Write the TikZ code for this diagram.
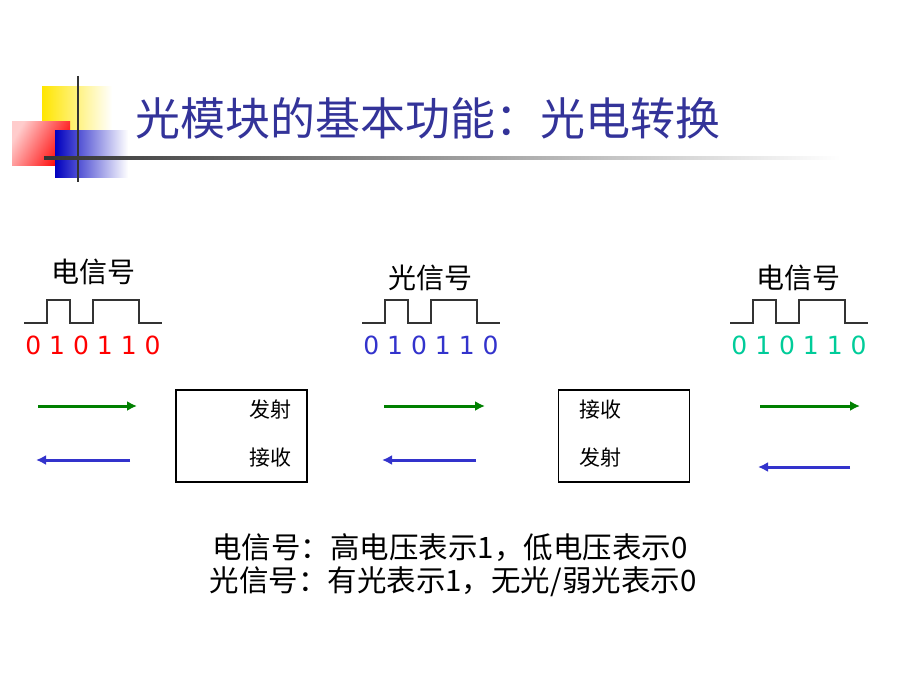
\documentclass[tikz,border=0pt]{standalone}
\usepackage{fontspec}
\setmainfont{DejaVu Sans}
\newfontfamily\cjk{Noto Sans CJK SC}
\usetikzlibrary{positioning}
\definecolor{titleblue}{RGB}{51,51,153}
\definecolor{sigred}{RGB}{255,0,0}
\definecolor{sigblue}{RGB}{51,51,204}
\definecolor{sigcyan}{RGB}{0,204,153}
\definecolor{arrgreen}{RGB}{0,128,0}
\definecolor{arrblue}{RGB}{51,51,204}
\tikzset{every picture/.style={line width=0.75pt}}
\tikzset{
  sig/.style={font=\cjk\fontsize{28}{32}\selectfont},
  bits/.style={font=\fontsize{25}{28}\selectfont},
  modbox/.style={draw,line width=1.5pt,minimum width=131pt,minimum height=92pt,inner sep=0pt},
  boxtext/.style={font=\cjk\fontsize{21}{24}\selectfont,inner sep=0.75pt},
  note/.style={font=\cjk\fontsize{29.5}{32}\selectfont},
  fwd/.style={draw=arrgreen,line width=3pt,-{Latex[length=10pt,width=10pt]}},
  bwd/.style={draw=arrblue,line width=3pt,-{Latex[length=10pt,width=10pt]}},
}
\usetikzlibrary{arrows.meta}
\newcommand{\wave}[1]{%
  \draw[line width=1.2pt,black!80] (#1+0,323) -- (#1+23,323) -- (#1+23,300) -- (#1+46,300) -- (#1+46,323)
    -- (#1+69,323) -- (#1+69,300) -- (#1+115,300) -- (#1+115,323) -- (#1+138,323);}

\begin{document}
\begin{tikzpicture}[x=1pt,y=1pt,yscale=-1,xscale=1]
\useasboundingbox (0,0) rectangle (920,690);

%Decoration
\shade[left color=yellow!80!orange,right color=white] (42,87) rectangle (112,132);
\shade[left color=red!20,right color=red,shading angle=60] (12,122) rectangle (70,165);
\shade[left color=blue!75!black,right color=white] (55,130) rectangle (128,177);
\draw[line width=2.5pt,black!80] (78,76) -- (78,182);
\shade[left color=black!80,right color=white] (44,156.5) rectangle (840,159.5);

% Title
\node[anchor=west,text=titleblue,font=\cjk\fontsize{45}{50}\selectfont] (title) at (132,118) {光模块的基本功能：光电转换};

% Signals
\node[sig] (lsig) at (93,272) {电信号};
\node[sig] (msig) at (430,278) {光信号};
\node[sig] (rsig) at (798,278) {电信号};
\wave{24}
\wave{362}
\wave{730}
\node[bits,text=sigred] (lbits) at (93,345) {0 1 0 1 1 0};
\node[bits,text=sigblue] (mbits) at (431,345) {0 1 0 1 1 0};
\node[bits,text=sigcyan] (rbits) at (799,345) {0 1 0 1 1 0};

% Modules
\node[modbox] (tx) at (241.5,436) {};
\node[modbox] (rx) at (624,436) {};
\node[boxtext] (txa) at (270,410) {发射};
\node[boxtext] (txb) at (270,458) {接收};
\node[boxtext] (rxa) at (600,410) {接收};
\node[boxtext] (rxb) at (600,458) {发射};

% Arrows
\coordinate (g1a) at (38,406);  \coordinate (g1b) at (137,406);
\coordinate (g2a) at (384,406); \coordinate (g2b) at (485,406);
\coordinate (g3a) at (760,406); \coordinate (g3b) at (860,406);
\coordinate (b1a) at (130,460); \coordinate (b1b) at (36,460);
\coordinate (b2a) at (476,460); \coordinate (b2b) at (382,460);
\coordinate (b3a) at (850,467); \coordinate (b3b) at (758,467);
\draw[fwd] (g1a) -- (g1b);
\draw[fwd] (g2a) -- (g2b);
\draw[fwd] (g3a) -- (g3b);
\draw[bwd] (b1a) -- (b1b);
\draw[bwd] (b2a) -- (b2b);
\draw[bwd] (b3a) -- (b3b);

% Notes
\node[note] (note1) at (450,548) {电信号：高电压表示1，低电压表示0};
\node[note] (note2) at (453,582) {光信号：有光表示1，无光/弱光表示0};
\end{tikzpicture}
\end{document}
